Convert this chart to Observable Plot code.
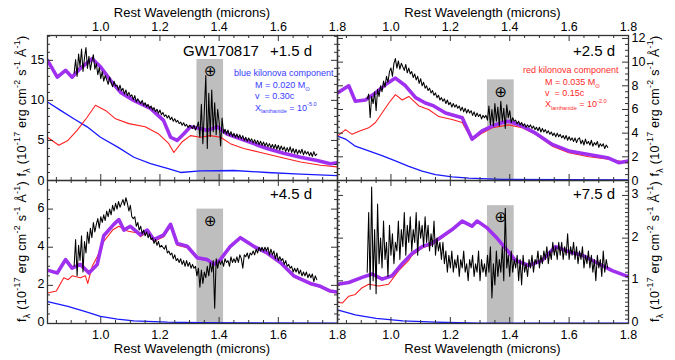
<!DOCTYPE html>
<html>
<head>
<meta charset="utf-8">
<script src="https://cdn.jsdelivr.net/npm/d3@7"></script>
<script src="https://cdn.jsdelivr.net/npm/@observablehq/plot@0.6"></script>
<style>
html,body{margin:0;padding:0;background:#fff;}
#chart{position:relative;width:675px;height:360px;overflow:hidden;background:#fff;}
#chart svg{position:absolute;left:0;top:0;}
</style>
</head>
<body>
<div id="chart"></div>
<script>
// ---------------- data ----------------
const xDomain = [0.82, 1.8];
const majorX = [1.0, 1.2, 1.4, 1.6, 1.8];
const minorX = [0.85, 0.9, 0.95, 1.05, 1.1, 1.15, 1.25, 1.3, 1.35, 1.45, 1.5, 1.55, 1.65, 1.7, 1.75];
const bandLo = 1.325, bandHi = 1.415;
const obsStep = 0.005;

// +1.5 d
const obs15Start = 0.91;
const obs15 = [
13.4,15.1,13.0,15.8,14.2,16.4,13.6,15.3,16.6,14.0,
15.5,13.8,14.9,15.7,13.9,14.6,13.2,14.1,12.7,13.6,
12.4,13.1,12.6,12.0,12.9,12.2,11.7,12.4,11.8,11.9,
11.3,11.9,11.2,11.5,10.8,11.3,10.6,11.0,10.5,10.7,
10.1,10.6,9.8,10.2,9.9,9.6,10.0,9.4,9.7,9.2,
9.5,9.0,9.3,8.8,9.1,8.6,8.9,8.4,8.8,8.2,
8.5,8.0,8.2,7.8,8.1,7.6,7.9,7.4,7.7,7.3,
7.5,7.1,7.3,6.9,7.2,6.8,7.0,6.6,6.9,6.7,
6.5,6.9,6.3,6.7,7.3,5.4,9.5,4.6,8.7,13.1,
4.0,10.9,5.5,11.3,6.1,9.7,5.7,8.9,7.3,4.3,
7.8,5.9,6.4,5.8,6.3,5.6,6.1,5.5,5.9,5.4,
5.8,5.3,5.7,5.2,5.6,5.0,5.4,4.9,5.3,4.9,
5.2,4.7,5.1,4.6,5.0,4.5,4.9,4.4,4.8,4.3,
4.7,4.2,4.6,4.1,4.5,4.0,4.5,3.9,4.4,3.8,
4.3,3.8,4.2,3.6,4.1,3.6,4.2,3.5,4.0,3.4,
3.9,3.3,3.8,3.4,3.9,3.2,3.7,3.3,3.6,3.1,
3.5,3.0,3.6,3.1,3.3];
const tot15Lam = [0.82,0.853,0.881,0.903,0.931,0.971,0.999,1.033,1.067,1.111,1.168,1.212,1.236,1.258,1.28,1.303,1.337,1.36,1.393,1.427,1.472,1.517,1.562,1.618,1.675,1.731,1.776,1.8];
const tot15 = [15.0,12.9,13.75,12.9,14.0,15.2,14.2,12.5,11.0,10.0,9.0,7.5,5.4,5.0,5.8,6.7,6.5,6.25,6.7,5.8,5.2,4.6,4.0,3.4,2.9,2.5,2.1,2.2];
const red15Lam = [0.82,0.858,0.889,0.92,0.954,0.982,1.016,1.05,1.095,1.15,1.196,1.23,1.247,1.274,1.303,1.337,1.37,1.405,1.438,1.483,1.54,1.607,1.675,1.743,1.8];
const red15 = [5.4,4.4,5.0,6.25,7.9,9.4,8.75,7.7,7.1,6.7,5.8,4.6,3.5,4.8,5.6,5.4,5.6,5.4,4.6,4.0,3.5,2.9,2.3,1.9,1.7];
const blue15Lam = [0.82,0.864,0.909,0.954,0.999,1.056,1.112,1.168,1.225,1.27,1.337,1.45,1.562,1.675,1.8];
const blue15 = [9.8,8.75,7.7,6.7,5.4,4.2,2.9,2.1,1.5,1.0,1.2,1.25,1.0,0.8,0.6];

// +2.5 d
const obs25Start = 0.92;
const obs25 = [
6.9,7.3,5.3,7.1,6.5,7.5,5.9,7.7,7.1,8.0,
7.5,8.4,7.9,8.8,8.3,9.2,9.5,8.8,9.9,10.3,
9.5,10.1,9.4,9.9,9.6,9.3,9.8,9.1,9.5,9.0,
9.2,8.7,9.0,8.5,8.8,8.2,8.6,8.0,8.3,7.8,
8.0,7.6,7.8,7.4,7.6,7.2,7.4,7.0,7.2,6.8,
7.0,6.7,6.9,6.5,6.8,6.4,6.6,6.2,6.5,6.2,
6.4,6.1,6.3,5.9,6.2,5.8,6.1,5.7,6.0,5.7,
5.9,5.5,5.8,5.4,5.7,5.4,5.6,5.2,5.5,5.3,
5.5,5.1,6.3,4.7,6.0,4.6,6.5,5.0,6.2,4.6,
6.7,5.0,6.1,4.4,6.4,5.3,5.9,4.9,5.3,5.0,
5.1,4.8,5.0,4.7,4.9,4.6,4.8,4.5,4.7,4.5,
4.7,4.4,4.6,4.3,4.5,4.2,4.5,4.1,4.4,4.1,
4.3,4.0,4.2,3.9,4.1,3.8,4.0,3.7,4.0,3.7,
3.9,3.6,3.8,3.5,3.8,3.4,3.7,3.4,3.6,3.3,
3.6,3.2,3.5,3.6,3.1,3.4,3.0,3.5,3.1,3.3,
3.0,3.4,2.9,3.2,3.0,3.3,2.8,3.1,2.9,3.1,
2.7,3.0,2.8];
const tot25Lam = [0.82,0.858,0.88,0.914,0.948,0.982,1.015,1.049,1.083,1.116,1.144,1.184,1.24,1.273,1.307,1.341,1.375,1.397,1.442,1.487,1.543,1.599,1.666,1.733,1.767,1.8];
const tot25 = [7.4,8.0,6.7,6.8,7.4,8.1,8.65,8.0,7.0,6.55,6.3,5.7,5.3,3.5,4.2,4.6,4.9,5.0,4.6,4.0,3.05,2.5,2.2,1.9,1.5,1.65];
const red25Lam = [0.82,0.847,0.869,0.897,0.925,0.948,0.97,0.993,1.015,1.038,1.06,1.094,1.127,1.161,1.206,1.24,1.273,1.307,1.341,1.397,1.442,1.487,1.543,1.599,1.666,1.733,1.8];
const red25 = [3.75,4.3,3.9,4.2,4.45,4.9,5.7,6.55,7.25,6.8,7.1,6.3,6.0,5.4,5.15,4.9,3.4,4.0,4.45,4.7,4.45,3.9,2.9,2.35,2.0,1.8,1.5];
const blue25Lam = [0.82,0.847,0.88,0.925,0.97,1.015,1.06,1.105,1.15,1.206,1.262,1.375,1.8];
const blue25 = [3.75,3.5,2.9,2.5,2.1,1.65,1.2,0.8,0.5,0.3,0.2,0.1,0.05];

// +4.5 d
const obs45Start = 0.91;
const obs45 = [
3.0,4.4,2.5,4.1,3.3,4.6,2.7,4.3,3.7,4.8,
4.2,5.0,4.5,5.3,4.8,5.2,5.5,5.0,5.6,5.3,
5.7,5.4,5.9,5.6,6.0,5.7,6.2,5.9,6.3,6.0,
6.4,6.1,6.3,6.5,6.2,6.6,6.3,5.9,6.2,5.6,
5.5,5.6,5.1,5.3,4.9,5.1,4.7,4.9,4.6,4.8,
4.5,4.7,4.4,4.5,4.2,4.4,4.1,4.3,4.0,4.1,
4.0,3.9,4.1,3.7,3.8,3.6,3.7,3.4,3.6,3.3,
3.4,3.2,3.4,3.1,3.3,3.0,3.3,3.0,3.2,2.9,
3.1,2.9,3.0,2.5,2.9,1.9,2.8,2.1,2.7,2.4,
3.0,2.5,3.2,2.7,3.3,0.8,3.4,2.9,3.3,3.1,
3.3,3.0,3.4,3.2,3.3,3.0,3.5,3.2,3.4,3.2,
3.5,3.2,3.6,3.4,2.9,3.6,3.5,3.7,3.4,3.7,
3.6,3.8,3.6,3.9,3.7,4.0,3.8,4.0,3.8,4.0,
3.8,4.0,3.6,3.9,3.6,3.8,3.4,3.7,3.3,3.5,
3.3,3.4,3.1,3.3,3.0,3.1,2.9,3.0,2.7,2.9,
2.7,2.9,2.6,2.8,2.5,2.7,2.5,2.7,2.4,2.6,
2.4,2.6,2.2,2.5,2.3];
const tot45Lam = [0.82,0.853,0.881,0.903,0.931,0.96,0.988,1.01,1.044,1.061,1.078,1.1,1.134,1.157,1.179,1.213,1.236,1.258,1.292,1.326,1.36,1.382,1.404,1.438,1.472,1.517,1.562,1.607,1.652,1.708,1.742,1.776,1.8];
const tot45 = [2.8,2.65,3.35,2.9,3.1,2.65,3.1,4.6,5.2,5.45,4.9,5.1,4.65,4.9,4.4,4.65,5.2,4.2,4.05,3.45,3.35,3.1,3.35,4.05,4.5,4.05,3.7,3.2,2.5,2.1,1.95,1.7,1.65];
const red45Lam = [0.82,0.85,0.875,0.89,0.903,0.931,0.948,0.956,0.971,0.988,1.01,1.04,1.061,1.09,1.123,1.134,1.157,1.179,1.213,1.236,1.258,1.292,1.326,1.36,1.382,1.404,1.438,1.472,1.517,1.562,1.607,1.652,1.708,1.742,1.776,1.8];
const red45 = [1.6,1.7,2.4,2.3,2.5,2.4,2.5,2.1,3.0,3.5,4.3,4.9,5.1,4.85,4.75,4.55,4.8,4.3,4.55,5.1,4.1,3.97,3.4,3.3,3.05,3.3,4.0,4.45,4.0,3.65,3.15,2.45,2.05,1.9,1.65,1.6];
const blue45Lam = [0.82,0.889,0.943,0.999,1.056,1.112,1.225,1.337,1.8];
const blue45 = [1.15,0.9,0.65,0.37,0.23,0.14,0.07,0.04,0.02];

// +7.5 d
const obs75Start = 0.92;
const obs75 = [
1.2,2.6,0.8,3.2,1.0,2.2,0.7,2.8,1.4,2.0,
1.3,2.4,1.5,1.9,1.1,2.3,1.6,2.1,1.4,1.9,
1.7,2.4,1.5,2.2,1.8,2.6,1.6,2.3,1.9,2.5,
1.7,2.2,1.9,2.6,1.6,2.4,2.0,2.3,1.8,2.5,
1.9,2.3,1.7,2.1,1.8,2.4,1.6,2.0,1.7,1.9,
1.5,1.9,1.4,1.7,1.2,1.6,1.3,1.7,1.2,1.5,
1.3,1.6,1.1,1.5,1.3,1.7,1.2,1.4,1.0,1.5,
1.3,1.6,1.1,1.4,1.2,1.7,1.0,1.5,1.2,1.4,
1.1,1.6,1.2,1.8,0.6,1.4,0.9,1.7,1.1,1.5,
1.2,1.8,1.0,2.7,1.3,1.6,1.1,1.7,1.2,1.5,
1.3,1.6,1.0,1.5,0.9,1.6,1.2,1.4,1.1,1.5,
1.3,1.6,1.2,1.5,1.4,1.7,1.3,1.6,1.4,1.7,
1.5,1.8,1.4,1.7,1.5,1.9,1.6,1.8,1.5,1.9,
1.6,1.9,1.5,1.8,1.6,2.1,1.5,1.8,1.6,1.9,
1.5,1.8,1.4,1.7,1.5,1.8,1.3,1.6,1.4,1.7,
1.3,1.6,1.2,1.5,1.0,1.6,1.3,1.5,1.1,1.7,
1.2,1.5,1.3];
const tot75Lam = [0.82,0.858,0.903,0.937,0.97,1.004,1.038,1.071,1.105,1.139,1.172,1.206,1.24,1.273,1.29,1.324,1.352,1.386,1.419,1.464,1.509,1.554,1.599,1.644,1.7,1.745,1.79,1.8];
const tot75 = [0.92,0.96,1.08,1.16,1.04,1.12,1.4,1.64,1.8,1.88,2.04,2.2,2.4,2.28,2.4,2.24,2.04,1.76,1.48,1.36,1.48,1.8,1.68,1.6,1.4,1.24,1.12,1.1];
const red75Lam = [0.82,0.836,0.858,0.88,0.903,0.925,0.959,0.992,1.026,1.06,1.071,1.105,1.139,1.172,1.206,1.24,1.273,1.29,1.324,1.352,1.386,1.419,1.464,1.509,1.554,1.599,1.644,1.7,1.745,1.79,1.8];
const red75 = [0.5,0.48,0.64,0.68,0.84,0.92,0.88,0.92,1.24,1.48,1.6,1.77,1.85,2.01,2.18,2.38,2.26,2.38,2.22,2.02,1.75,1.47,1.35,1.47,1.79,1.67,1.59,1.39,1.23,1.11,1.09];
const blue75Lam = [0.82,0.88,0.95,1.04,1.15,1.3,1.8];
const blue75 = [0.32,0.2,0.12,0.06,0.03,0.01,0.01];

// axis ticks per panel
const yMajor15 = [0, 5, 10, 15];
const yMajor25 = [0, 2, 4, 6, 8, 10, 12];
const yMajor45 = [0, 2, 4, 6];
const yMajor75 = [0, 1, 2, 3];

// ---------------- helpers ----------------
const FONT = "'Liberation Sans', Arial, Helvetica, sans-serif";
const AX = "#333";
const series = (lam, vals) => lam.map((l, i) => ({lam: l, f: vals[i]}));
const observed = (start, vals) => vals.map((f, i) => ({lam: start + i * obsStep, f}));
const minorOf = (step, max, major) => d3.range(step, max + 1e-9, step).map(v => +v.toFixed(3)).filter(v => !major.some(m => Math.abs(m - v) < 1e-6));

function makePanel(p) {
  const [x0, x1, y0, y1] = p.frame;
  const fw = x1 - x0, fh = y1 - y0;
  const band = [{lo: bandLo, hi: bandHi, top: p.bandTop}];
  const marks = [
    Plot.rect(band, {x1: "lo", x2: "hi", y1: () => 0, y2: "top", fill: "#bebebe"}),
    Plot.line(p.blue, {x: "lam", y: "f", stroke: "#1a1aff", strokeWidth: 1.3, clip: true}),
    Plot.line(p.red, {x: "lam", y: "f", stroke: "#ff1f1f", strokeWidth: 1.1, clip: true}),
    Plot.line(p.tot, {x: "lam", y: "f", stroke: "#a030f0", strokeWidth: 3.6, clip: true}),
    Plot.line(p.obs, {x: "lam", y: "f", stroke: "#000", strokeWidth: 1.05, clip: true}),
    Plot.text(band, {x: d => (d.lo + d.hi) / 2, y: "top", text: () => "\u2295", dy: 12, fontSize: 15, fontFamily: "DejaVu Sans", fill: "#000"}),
    Plot.tickX(majorX, {x: d => d, insetTop: fh - 6, stroke: AX}),
    Plot.tickX(majorX, {x: d => d, insetBottom: fh - 6, stroke: AX}),
    Plot.tickX(minorX, {x: d => d, insetTop: fh - 3, stroke: AX}),
    Plot.tickX(minorX, {x: d => d, insetBottom: fh - 3, stroke: AX}),
    Plot.tickY(p.yMajor, {y: d => d, insetRight: fw - 6, stroke: AX}),
    Plot.tickY(p.yMajor, {y: d => d, insetLeft: fw - 6, stroke: AX}),
    Plot.tickY(p.yMinor, {y: d => d, insetRight: fw - 3, stroke: AX}),
    Plot.tickY(p.yMinor, {y: d => d, insetLeft: fw - 3, stroke: AX}),
    Plot.frame({stroke: AX, strokeWidth: 1.3}),
    Plot.axisX(majorX, p.xSide === "top"
      ? {anchor: "top", tickSize: 0, tickPadding: 4.5, tickFormat: d => d.toFixed(1), fontSize: 12.5, label: null}
      : {anchor: "bottom", tickSize: 0, tickPadding: 7, tickFormat: d => d.toFixed(1), fontSize: 12.5, label: null}),
    Plot.axisY(p.yMajor, {anchor: p.ySide, tickSize: 0, tickPadding: 3, tickFormat: d => String(d), fontSize: 12.5, label: null,
      dy: p.xSide === "bottom" ? -1.5 : 0})
  ];
  return Plot.plot({
    width: 675, height: 360,
    marginLeft: x0, marginRight: 675 - x1, marginTop: y0, marginBottom: 360 - y1,
    x: {domain: xDomain, label: null},
    y: {domain: p.yDomain, label: null},
    style: {background: "transparent", overflow: "visible", fontFamily: FONT, fontSize: "12.5px", color: "#000"},
    marks
  });
}

const panels = [
  {frame: [47, 337, 35, 180], yDomain: [0, 18.1], yMajor: yMajor15, yMinor: minorOf(1, 18, yMajor15), ySide: "left", xSide: "top", bandTop: 15.1,
   obs: observed(obs15Start, obs15), tot: series(tot15Lam, tot15), red: series(red15Lam, red15), blue: series(blue15Lam, blue15)},
  {frame: [337, 628, 35, 180], yDomain: [0, 12.25], yMajor: yMajor25, yMinor: minorOf(0.5, 12, yMajor25), ySide: "right", xSide: "top", bandTop: 8.5,
   obs: observed(obs25Start, obs25), tot: series(tot25Lam, tot25), red: series(red25Lam, red25), blue: series(blue25Lam, blue25)},
  {frame: [47, 337, 180, 323], yDomain: [0, 7.5], yMajor: yMajor45, yMinor: minorOf(0.5, 7.5, yMajor45), ySide: "left", xSide: "bottom", bandTop: 6.0,
   obs: observed(obs45Start, obs45), tot: series(tot45Lam, tot45), red: series(red45Lam, red45), blue: series(blue45Lam, blue45)},
  {frame: [337, 628, 180, 323], yDomain: [0, 3.35], yMajor: yMajor75, yMinor: minorOf(0.1, 3.3, yMajor75), ySide: "right", xSide: "bottom", bandTop: 2.76,
   obs: observed(obs75Start, obs75), tot: series(tot75Lam, tot75), red: series(red75Lam, red75), blue: series(blue75Lam, blue75)}
];

const chart = document.getElementById("chart");
for (const p of panels) chart.appendChild(makePanel(p));

// ---------------- text overlay ----------------
const svg = d3.create("svg").attr("width", 675).attr("height", 360).style("font-family", FONT).style("overflow", "visible");
function rich(x, y, parts, {size = 12, fill = "#000", anchor = "start", rotate = 0, spacing = 0, subScale = 0.62} = {}) {
  const t = svg.append("text").attr("x", x).attr("y", y).attr("font-size", size).attr("fill", fill)
    .attr("text-anchor", anchor).style("white-space", "pre");
  if (spacing) t.style("letter-spacing", spacing + "px");
  if (rotate) t.attr("transform", `rotate(${rotate},${x},${y})`);
  let cur = 0;
  for (const [s, k] of parts) {
    const off = k === "sub" ? 0.3 * size : k === "sup" ? -0.45 * size : 0;
    const ts = t.append("tspan").attr("dy", off - cur).text(s);
    if (k) ts.attr("font-size", size * subScale);
    cur = off;
  }
  return t;
}
const xTitle = "Rest Wavelength (microns)";
rich(192, 16.5, [[xTitle, ""]], {size: 13, anchor: "middle"});
rich(482.5, 16.5, [[xTitle, ""]], {size: 13, anchor: "middle"});
rich(192, 353, [[xTitle, ""]], {size: 13, anchor: "middle"});
rich(482.5, 353, [[xTitle, ""]], {size: 13, anchor: "middle"});

const yTitle = [["f", ""], ["\u03bb", "sub"], [" (10", ""], ["-17", "sup"], [" erg cm", ""], ["-2", "sup"], [" s", ""], ["-1", "sup"], [" \u00c5", ""], ["-1", "sup"], [")", ""]];
const yOpt = {size: 12.5, anchor: "middle", rotate: -90, spacing: 0.3, subScale: 0.7};
rich(26, 106, yTitle, yOpt);
rich(26, 251.5, yTitle, yOpt);
rich(659, 106, yTitle, yOpt);
rich(659, 251.5, yTitle, yOpt);

rich(183, 55.5, [["GW170817", ""]], {size: 15});
rich(312, 55.5, [["+1.5 d", ""]], {size: 15, anchor: "end"});
rich(615, 55.5, [["+2.5 d", ""]], {size: 15, anchor: "end"});
rich(312, 198.5, [["+4.5 d", ""]], {size: 15, anchor: "end"});
rich(615, 198.5, [["+7.5 d", ""]], {size: 15, anchor: "end"});

const BLUE = "#3a3aff", RED = "#ff2a2a";
rich(234, 76.3, [["blue kilonova component", ""]], {size: 9, fill: BLUE});
rich(255, 88, [["M = 0.020 M", ""], ["\u2299", "sub"]], {size: 9, fill: BLUE});
rich(255, 99.3, [["v\u00a0 = 0.30c", ""]], {size: 9, fill: BLUE});
rich(255, 110.5, [["X", ""], ["lanthanide", "sub"], [" = 10", ""], ["-5.0", "sup"]], {size: 9, fill: BLUE});

rich(523, 72.6, [["red kilonova component", ""]], {size: 9, fill: RED});
rich(545, 85, [["M = 0.035 M", ""], ["\u2299", "sub"]], {size: 9, fill: RED});
rich(545, 96, [["v\u00a0 = 0.15c", ""]], {size: 9, fill: RED});
rich(545, 107.3, [["X", ""], ["lanthanide", "sub"], [" = 10", ""], ["-2.0", "sup"]], {size: 9, fill: RED});

chart.appendChild(svg.node());
</script>
</body>
</html>
